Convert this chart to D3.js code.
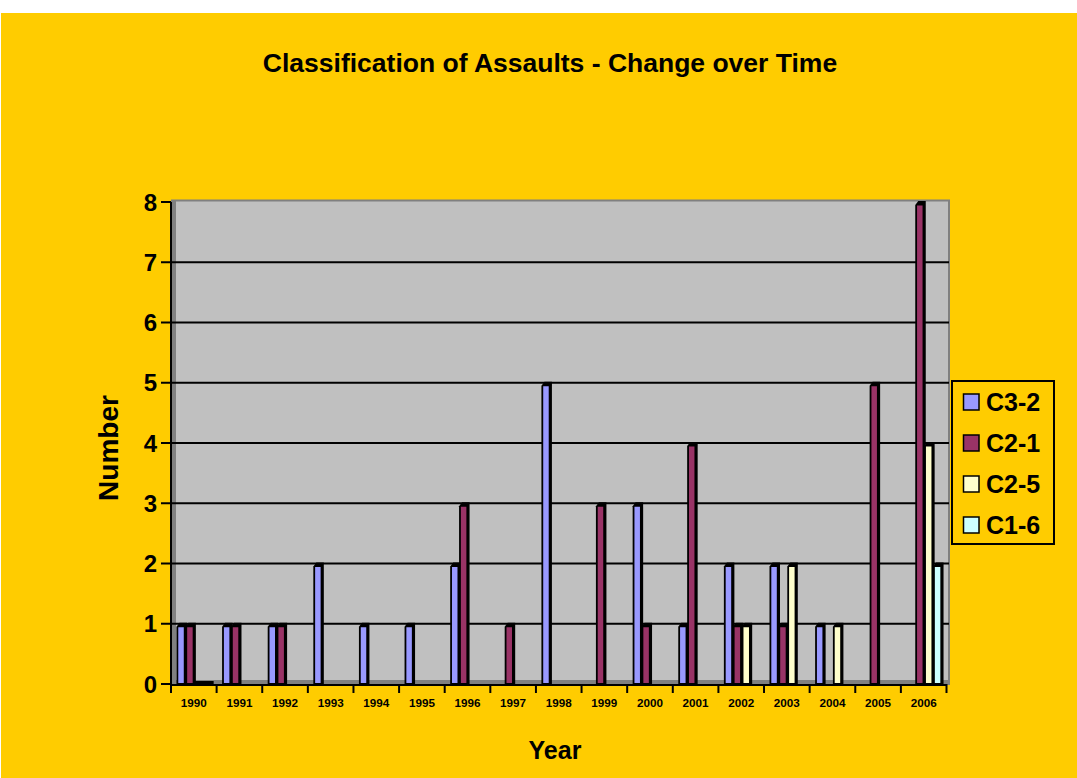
<!DOCTYPE html>
<html><head><meta charset="utf-8">
<script src="https://cdn.jsdelivr.net/npm/d3@7"></script>
<style>html,body{margin:0;padding:0;background:#fff;}svg{display:block;font-family:"Liberation Sans",Arial,sans-serif;}</style>
</head><body>
<svg id="chart" width="1077" height="778"></svg>
<script>
const years = ["1990","1991","1992","1993","1994","1995","1996","1997","1998","1999","2000","2001","2002","2003","2004","2005","2006"];
const seriesNames = ["C3-2","C2-1","C2-5","C1-6"];
const seriesColors = ["#9999FF","#993366","#FFFFCC","#CCFFFF"];
const c32 = [1,1,1,2,1,1,2,null,5,null,3,1,2,2,1,null,null];
const c21 = [1,1,1,null,null,null,3,1,null,3,1,4,1,1,null,5,8];
const c25 = [0,null,null,null,null,null,null,null,null,null,null,null,1,2,1,null,4];
const c16 = [0,null,null,null,null,null,null,null,null,null,null,null,null,null,null,null,2];
const yTicks = [0,1,2,3,4,5,6,7,8];
const title = "Classification of Assaults - Change over Time";
const xTitle = "Year", yTitle = "Number";

const seriesVals = [c32,c21,c25,c16];
const svg = d3.select("#chart");

// background
svg.append("rect").attr("x",1).attr("y",13).attr("width",1076).attr("height",765).attr("fill","#FFCC00");

const x = d3.scaleBand().domain(years).range([171,946.5]).paddingInner(0).paddingOuter(0);
const y = d3.scaleLinear().domain([0,8]).range([684,202]);
const bw = x.bandwidth();
const slot = bw*0.195, off = bw*0.12;

// wall
const wall = svg.append("g");
wall.append("rect").attr("x",172).attr("y",y(8)-1.5).attr("width",949-172).attr("height",y(0)-y(8)+1.5)
  .attr("fill","#C0C0C0").attr("stroke","#808080").attr("stroke-width",2);
wall.append("rect").attr("x",172).attr("y",y(8)-1).attr("width",4).attr("height",y(0)-y(8)+1).attr("fill","#808080");
wall.append("rect").attr("x",172).attr("y",y(0)-4).attr("width",949-172).attr("height",4).attr("fill","#808080");
// gridlines
wall.selectAll("line.grid").data(yTicks.filter(v=>v>0 && v<8)).join("line")
  .attr("x1",172).attr("x2",949).attr("y1",d=>y(d)).attr("y2",d=>y(d))
  .attr("stroke","#000").attr("stroke-width",2);

// bars
const bars = svg.append("g");
years.forEach((yr,i)=>{
  seriesVals.forEach((vals,k)=>{
    const v = vals[i];
    if(v===null || v===undefined) return;
    const x0 = x(yr)+off+k*slot;
    const w = 10.5;
    if(v===0){
      bars.append("rect").attr("x",x0).attr("y",y(0)-3).attr("width",w).attr("height",3).attr("fill","#000");
      return;
    }
    const top = y(v);
    bars.append("path")
      .attr("d",`M${x0},${top+3} L${x0+3},${top-1} L${x0+w},${top-1} L${x0+w},${y(0)+1} L${x0},${y(0)+1} Z`)
      .attr("fill","#000");
    bars.append("rect").attr("x",x0+1.8).attr("y",top+3.5).attr("width",5.5).attr("height",y(0)-1-(top+3.5))
      .attr("fill",seriesColors[k]);
  });
});

// axes
const ax = svg.append("g");
ax.append("line").attr("x1",171).attr("x2",171).attr("y1",y(8)).attr("y2",y(0)+1).attr("stroke","#000").attr("stroke-width",2);
ax.append("line").attr("x1",170).attr("x2",947).attr("y1",y(0)+1).attr("y2",y(0)+1).attr("stroke","#000").attr("stroke-width",2);
ax.selectAll("line.yt").data(yTicks).join("line")
  .attr("x1",161).attr("x2",171).attr("y1",d=>y(d)).attr("y2",d=>y(d)).attr("stroke","#000").attr("stroke-width",2);
const xTickPos = years.map(d=>x(d)).concat([x(years[years.length-1])+bw]);
ax.selectAll("line.xt").data(xTickPos).join("line")
  .attr("x1",d=>d).attr("x2",d=>d).attr("y1",y(0)).attr("y2",y(0)+9).attr("stroke","#000").attr("stroke-width",2);
ax.selectAll("text.yl").data(yTicks).join("text")
  .attr("x",157).attr("y",d=>y(d)+8.5).attr("text-anchor","end")
  .attr("font-size",24).attr("font-weight","bold").text(d=>d);
ax.selectAll("text.xl").data(years).join("text")
  .attr("x",d=>x(d)+bw/2).attr("y",707).attr("text-anchor","middle")
  .attr("font-size",11.7).attr("font-weight","bold").text(d=>d);

// titles
svg.append("text").attr("x",550).attr("y",72).attr("text-anchor","middle")
  .attr("font-size",26.5).attr("font-weight","bold").text(title);
svg.append("text").attr("x",555).attr("y",759).attr("text-anchor","middle")
  .attr("font-size",25).attr("font-weight","bold").text(xTitle);
svg.append("text").attr("transform","translate(117.5,448) rotate(-90)").attr("text-anchor","middle")
  .attr("font-size",28).attr("font-weight","bold").text(yTitle);

// legend
const lg = svg.append("g");
lg.append("rect").attr("x",952).attr("y",381).attr("width",102).attr("height",163)
  .attr("fill","none").attr("stroke","#000").attr("stroke-width",2);
seriesNames.forEach((n,k)=>{
  const cy = 402 + k*41;
  lg.append("rect").attr("x",963.5).attr("y",cy-8).attr("width",15.5).attr("height",16)
    .attr("fill",seriesColors[k]).attr("stroke","#000").attr("stroke-width",1.5);
  lg.append("text").attr("x",986).attr("y",cy+8.5).attr("font-size",25).attr("font-weight","bold").text(n);
});
</script>
</body></html>
